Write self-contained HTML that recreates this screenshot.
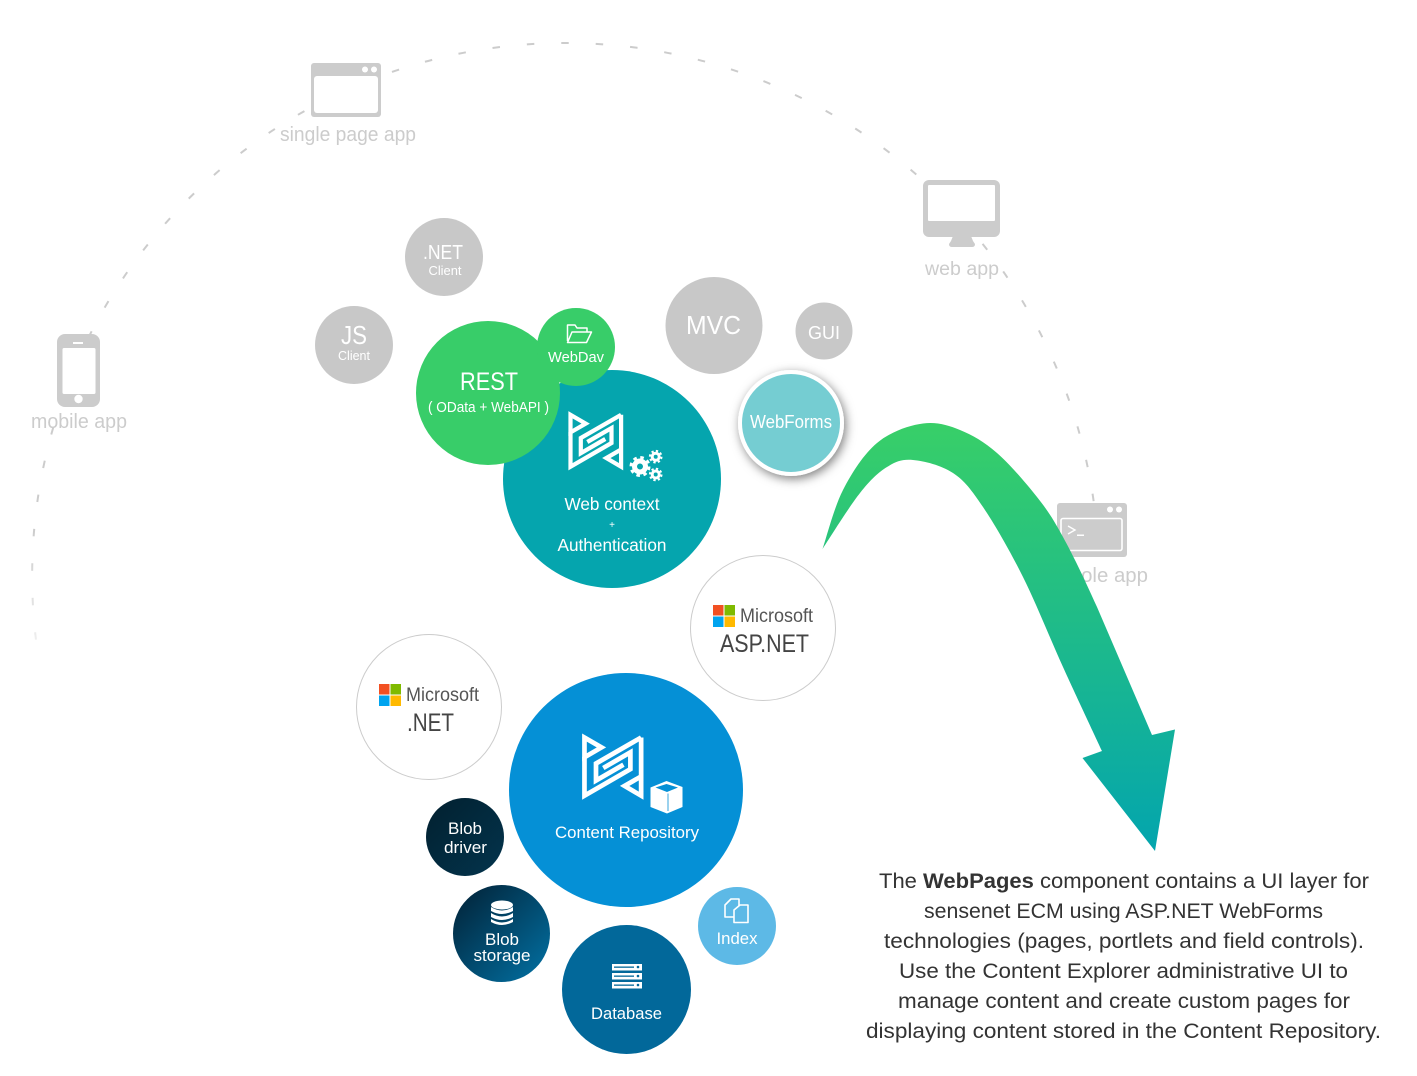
<!DOCTYPE html>
<html><head><meta charset="utf-8"><title>sensenet WebPages</title>
<style>
html,body{margin:0;padding:0;background:#fff}
svg{display:block}
text{font-family:"Liberation Sans",sans-serif;text-anchor:middle}
.w{fill:#fff}.g{fill:#ccc}.d{fill:#333}
</style></head><body>
<svg width="1417" height="1076" viewBox="0 0 1417 1076" xmlns="http://www.w3.org/2000/svg">
<defs>
<linearGradient id="arrow" gradientUnits="userSpaceOnUse" x1="0" y1="424" x2="0" y2="850"><stop offset="0" stop-color="#38cf68"/><stop offset="1" stop-color="#03a5ae"/></linearGradient>
<linearGradient id="fade" gradientUnits="userSpaceOnUse" x1="0" y1="530" x2="0" y2="640"><stop offset="0" stop-color="#ccc"/><stop offset="1" stop-color="#eee"/></linearGradient>
<linearGradient id="bs" x1="0" y1="0" x2="1" y2="1"><stop offset=".1" stop-color="#02283f"/><stop offset=".9" stop-color="#026a9a"/></linearGradient>
<linearGradient id="bd" x1="0" y1="0" x2="1" y2="1"><stop offset="0" stop-color="#02202f"/><stop offset="1" stop-color="#03344d"/></linearGradient>
<filter id="sh" x="-30%" y="-30%" width="160%" height="160%"><feDropShadow dx="2" dy="3" stdDeviation="5" flood-color="#000" flood-opacity=".5"/></filter>
<g id="logo" fill="none" stroke="#fff" stroke-width="4.2" stroke-miterlimit="10">
<path d="M2.2,3.8 L17.4,12.6 L2.2,21.4 Z"/>
<path d="M2.2,21 V55.7 L43.2,32 V17 L19,31"/>
<path d="M52.8,3.8 L12.5,27 V42.2 L37,28"/>
<path d="M52.8,3.8 V55.7 L38,47 L52.8,38.5"/>
</g>
</defs>

<!-- dashed arc -->
<path d="M565,43 A533,533 0 0 0 36,640" fill="none" stroke="url(#fade)" stroke-width="2" stroke-dasharray="7.5 27" stroke-dashoffset="3.75"/>
<path d="M565,43 A533.5,533.5 0 0 1 1099,576" fill="none" stroke="#ccc" stroke-width="2" stroke-dasharray="7.5 27" stroke-dashoffset="3.75"/>

<!-- app icons -->
<rect x="305" y="58" width="84" height="66" fill="#fff"/>
<rect x="278" y="125" width="142" height="24" fill="#fff"/>
<rect x="311" y="63" width="70" height="54" rx="3" fill="#ccc"/>
<rect x="314" y="76" width="64" height="37" rx="3" fill="#fff"/>
<circle cx="365" cy="69.5" r="3" fill="#fff"/><circle cx="374" cy="69.5" r="3" fill="#fff"/>
<text x="348" y="141" font-size="20" class="g" textLength="136" lengthAdjust="spacingAndGlyphs">single page app</text>

<rect x="50" y="338" width="58" height="72" fill="#fff"/>
<rect x="57" y="334" width="43" height="73" rx="8" fill="#ccc"/>
<rect x="62.5" y="348" width="33" height="46" rx="1.5" fill="#fff"/>
<circle cx="78.5" cy="399" r="4.2" fill="#fff"/>
<rect x="73" y="342" width="10" height="2" fill="#fff"/>
<text x="79" y="428" font-size="20" class="g" textLength="96" lengthAdjust="spacingAndGlyphs">mobile app</text>

<rect x="918" y="178" width="63" height="72" fill="#fff"/>
<rect x="923" y="180" width="77" height="57" rx="6" fill="#ccc"/>
<rect x="928" y="185" width="67" height="36" rx="1" fill="#fff"/>
<path d="M953,236 H971 L973,241 L975,244 Q975,247 972,247 H952 Q949,247 949,244 L951,241 Z" fill="#ccc"/>
<rect x="922" y="257" width="78" height="24" fill="#fff"/>
<text x="962" y="275" font-size="19" class="g" textLength="74" lengthAdjust="spacingAndGlyphs">web app</text>

<rect x="1036" y="562" width="116" height="28" fill="#fff"/>
<rect x="1057" y="503" width="70" height="54" rx="3" fill="#ccc"/>
<rect x="1061" y="518.5" width="61" height="32" rx="2" fill="none" stroke="#fff" stroke-width="1.6"/>
<circle cx="1110" cy="509.5" r="3" fill="#fff"/><circle cx="1119" cy="509.5" r="3" fill="#fff"/>
<path d="M1068,526 L1075,530 L1068,534" fill="none" stroke="#fff" stroke-width="1.4"/>
<rect x="1077" y="534.5" width="7" height="1.5" fill="#fff"/>
<text x="1093" y="582" font-size="20" class="g" textLength="110" lengthAdjust="spacingAndGlyphs">console app</text>

<!-- grey circles -->
<circle cx="444" cy="257" r="39" fill="#c8c8c8"/>
<text x="443" y="259" font-size="20" class="w" textLength="40" lengthAdjust="spacingAndGlyphs">.NET</text>
<text x="445" y="275" font-size="13" class="w" textLength="33" lengthAdjust="spacingAndGlyphs">Client</text>
<circle cx="354" cy="345" r="39" fill="#c8c8c8"/>
<text x="354" y="344" font-size="26" class="w" textLength="26" lengthAdjust="spacingAndGlyphs">JS</text>
<text x="354" y="360" font-size="13" class="w" textLength="32" lengthAdjust="spacingAndGlyphs">Client</text>
<circle cx="714" cy="325.5" r="48.5" fill="#c8c8c8"/>
<text x="713.5" y="334" font-size="26" class="w" textLength="55" lengthAdjust="spacingAndGlyphs">MVC</text>
<circle cx="824" cy="331" r="28.5" fill="#c8c8c8"/>
<text x="824" y="339" font-size="18" class="w" textLength="32" lengthAdjust="spacingAndGlyphs">GUI</text>

<!-- web context -->
<circle cx="612" cy="479" r="109" fill="#05a5ae"/>
<use href="#logo" transform="translate(568.3,411)"/>
<g fill="none" stroke="#fff">
<circle cx="640" cy="466.5" r="5.5" stroke-width="5"/>
<circle cx="640" cy="466.5" r="9" stroke-width="3" stroke-dasharray="3.5 3.57"/>
<circle cx="655.7" cy="456.7" r="3.5" stroke-width="3"/>
<circle cx="655.7" cy="456.7" r="5.8" stroke-width="2" stroke-dasharray="2.3 2.25"/>
<circle cx="655.7" cy="474.5" r="3.5" stroke-width="3"/>
<circle cx="655.7" cy="474.5" r="5.8" stroke-width="2" stroke-dasharray="2.3 2.25"/>
</g>
<text x="612" y="510" font-size="17.5" class="w" textLength="95" lengthAdjust="spacingAndGlyphs">Web context</text>
<text x="612" y="528" font-size="10" class="w">+</text>
<text x="612" y="551" font-size="17.5" class="w" textLength="109" lengthAdjust="spacingAndGlyphs">Authentication</text>

<!-- REST -->
<circle cx="488" cy="393" r="72" fill="#38cd69"/>
<text x="489" y="390" font-size="25" class="w" textLength="58" lengthAdjust="spacingAndGlyphs">REST</text>
<text x="488.5" y="412" font-size="14.5" class="w" textLength="121" lengthAdjust="spacingAndGlyphs">( OData + WebAPI )</text>
<circle cx="576" cy="347" r="39" fill="#38cd69"/>
<path d="M567.5,341 V325 H575 L577,328 H587 V332 M567.5,342.5 L572,332 H591.5 L586.5,342.5 Z" fill="none" stroke="#fff" stroke-width="1.5" stroke-linejoin="round"/>
<text x="576" y="362" font-size="14.5" class="w" textLength="56" lengthAdjust="spacingAndGlyphs">WebDav</text>

<!-- WebForms -->
<circle cx="791" cy="423" r="51" fill="#74cdd2" stroke="#fff" stroke-width="4" filter="url(#sh)"/>
<text x="791" y="428" font-size="18" class="w" textLength="82" lengthAdjust="spacingAndGlyphs">WebForms</text>

<!-- Microsoft circles -->
<circle cx="763" cy="628" r="72.5" fill="#fff" stroke="#ccc" stroke-width="1"/>
<rect x="713" y="605" width="10.5" height="10.5" fill="#f25022"/><rect x="724.5" y="605" width="10.5" height="10.5" fill="#7fba00"/>
<rect x="713" y="616.5" width="10.5" height="10.5" fill="#00a4ef"/><rect x="724.5" y="616.5" width="10.5" height="10.5" fill="#ffb900"/>
<text x="776.5" y="622" font-size="19" fill="#555" textLength="73" lengthAdjust="spacingAndGlyphs">Microsoft</text>
<text x="764.5" y="652" font-size="25" fill="#444" textLength="89" lengthAdjust="spacingAndGlyphs">ASP.NET</text>

<circle cx="429" cy="707" r="72.5" fill="#fff" stroke="#ccc" stroke-width="1"/>
<rect x="379" y="684" width="10.5" height="10.5" fill="#f25022"/><rect x="390.5" y="684" width="10.5" height="10.5" fill="#7fba00"/>
<rect x="379" y="695.5" width="10.5" height="10.5" fill="#00a4ef"/><rect x="390.5" y="695.5" width="10.5" height="10.5" fill="#ffb900"/>
<text x="442.5" y="701" font-size="19" fill="#555" textLength="73" lengthAdjust="spacingAndGlyphs">Microsoft</text>
<text x="430.5" y="731" font-size="25" fill="#444" textLength="47" lengthAdjust="spacingAndGlyphs">.NET</text>

<!-- content repository -->
<circle cx="626" cy="790" r="117" fill="#0590d6"/>
<use href="#logo" transform="translate(582,733.3) scale(1.12)"/>
<path d="M666.5,781 L682.5,787 V807 L667,813.5 L650.5,807 V787.5 Z" fill="#fff"/>
<path d="M666.5,784 L678,787.5 L667,792 L655.5,787.5 Z" fill="#0590d6"/>
<path d="M669,795 L680.5,790 V805.5 L669,810.5 Z" fill="#fff"/>
<path d="M668,793.5 L668,811" stroke="#0590d6" stroke-width=".8" fill="none"/>
<text x="627" y="838" font-size="17" class="w" textLength="144" lengthAdjust="spacingAndGlyphs">Content Repository</text>

<!-- blob driver -->
<circle cx="465" cy="837" r="39" fill="url(#bd)"/>
<text x="465" y="834" font-size="17" class="w" textLength="34" lengthAdjust="spacingAndGlyphs">Blob</text>
<text x="465.5" y="853" font-size="17" class="w" textLength="43" lengthAdjust="spacingAndGlyphs">driver</text>

<!-- blob storage -->
<circle cx="501.5" cy="933.5" r="48.5" fill="url(#bs)"/>
<g fill="#fff">
<ellipse cx="502" cy="905" rx="11" ry="4.5"/>
<path d="M491,907 Q502,914 513,907 V911 Q502,917 491,911 Z"/>
<path d="M491,913 Q502,920 513,913 V917 Q502,923 491,917 Z"/>
<path d="M491,919 Q502,926 513,919 V922 Q502,928 491,922 Z"/>
</g>
<text x="502" y="945" font-size="17" class="w" textLength="34" lengthAdjust="spacingAndGlyphs">Blob</text>
<text x="502" y="961" font-size="17" class="w" textLength="57" lengthAdjust="spacingAndGlyphs">storage</text>

<!-- database -->
<circle cx="626.5" cy="989.5" r="64.5" fill="#02689a"/>
<g fill="#fff">
<rect x="612" y="964" width="30" height="6.5"/><rect x="612" y="973" width="30" height="6.5"/><rect x="612" y="982" width="30" height="6.5"/>
</g>
<g fill="#02689a">
<rect x="614" y="966.5" width="20" height="1.3"/><rect x="614" y="975.5" width="20" height="1.3"/><rect x="614" y="984.5" width="20" height="1.3"/>
<circle cx="638" cy="967" r="1.3"/><circle cx="638" cy="976" r="1.3"/><circle cx="638" cy="985" r="1.3"/>
</g>
<text x="626.5" y="1019" font-size="17" class="w" textLength="71" lengthAdjust="spacingAndGlyphs">Database</text>

<!-- index -->
<circle cx="737" cy="926" r="39" fill="#5db9e6"/>
<g fill="#5db9e6" stroke="#fff" stroke-width="1.6" stroke-linejoin="round">
<path d="M725,905 L731,899 H739 V917 H725 Z"/>
<path d="M734,910 L740,905 H748 V922.5 H734 Z"/>
</g>
<text x="737" y="944" font-size="17" class="w" textLength="41" lengthAdjust="spacingAndGlyphs">Index</text>

<!-- big arrow -->
<path fill="url(#arrow)" d="M822.5,549 C826.3,538.3 834,507.5 843,490 C852,472.5 863.7,454.2 877,443 C890.3,431.8 909.2,425.2 923,423.5 C936.8,421.8 947.7,425 960,430 C972.3,435 984.2,441.8 997,453 C1009.8,464.2 1026,483 1037,497 C1048,511 1053,518.7 1063,537 C1073,555.3 1082.2,574 1097,607 L1152,735 L1175,729.5 L1155,851 L1082.5,758 L1102,751 C1095.5,737 1076.2,696 1063,667 C1049.8,638 1036.3,603.7 1023,577 C1009.7,550.3 994.7,524.3 983,507 C971.3,489.7 964.7,480.8 953,473 C941.3,465.2 924,461 913,460 C902,459 895.8,461.5 887,467 C878.2,472.5 870.7,479.5 860,493 C849.3,506.5 829,539 822.5,549 Z"/>

<!-- paragraph -->
<g font-size="21">
<text x="1124" y="888" textLength="490" lengthAdjust="spacingAndGlyphs" class="d">The <tspan font-weight="bold">WebPages</tspan> component contains a UI layer for</text>
<text x="1123.5" y="918" textLength="399" lengthAdjust="spacingAndGlyphs" class="d">sensenet ECM using ASP.NET WebForms</text>
<text x="1124" y="948" textLength="480" lengthAdjust="spacingAndGlyphs" class="d">technologies (pages, portlets and field controls).</text>
<text x="1123.5" y="978" textLength="449" lengthAdjust="spacingAndGlyphs" class="d">Use the Content Explorer administrative UI to</text>
<text x="1124" y="1008" textLength="452" lengthAdjust="spacingAndGlyphs" class="d">manage content and create custom pages for</text>
<text x="1123.5" y="1038" textLength="515" lengthAdjust="spacingAndGlyphs" class="d">displaying content stored in the Content Repository.</text>
</g>
</svg>
</body></html>
